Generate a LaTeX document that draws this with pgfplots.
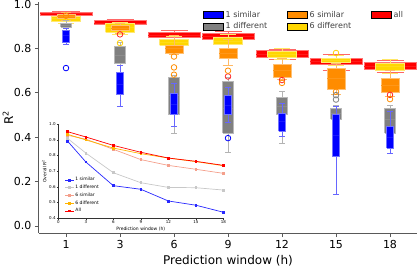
\documentclass[border=0pt]{standalone}
\usepackage{fontspec}
\setmainfont{DejaVu Sans}
\usepackage{pgfplots}
\pgfplotsset{compat=1.18}
\definecolor{cB}{RGB}{0,0,255}
\definecolor{cG}{RGB}{128,128,128}
\definecolor{cO}{RGB}{255,140,0}
\definecolor{cY}{RGB}{255,215,0}
\definecolor{cR}{RGB}{255,0,0}
\definecolor{iB}{RGB}{40,40,255}
\definecolor{iG}{RGB}{200,200,200}
\definecolor{iS}{RGB}{244,160,140}
\definecolor{iY}{RGB}{255,180,0}
\definecolor{iR}{RGB}{255,0,0}
% color, pos, lower whisker, lower quartile, median, upper quartile, upper whisker, box width, cap width
\newcommand{\bx}[9]{%
 \pgfmathsetmacro{\xa}{#2-#8/2}\pgfmathsetmacro{\xb}{#2+#8/2}%
 \pgfmathsetmacro{\ca}{#2-#9/2}\pgfmathsetmacro{\cb}{#2+#9/2}%
 \edef\tmp{%
 \noexpand\addplot[draw=#1!60!white, line width=0.8pt, forget plot] coordinates {(#2,#3) (#2,#4)};
 \noexpand\addplot[draw=#1!60!white, line width=0.8pt, forget plot] coordinates {(#2,#6) (#2,#7)};
 \noexpand\addplot[draw=#1!60!white, line width=0.8pt, forget plot] coordinates {(\ca,#3) (\cb,#3)};
 \noexpand\addplot[draw=#1!60!white, line width=0.8pt, forget plot] coordinates {(\ca,#7) (\cb,#7)};
 \noexpand\addplot[fill=#1, draw=#1!55!white, line width=0.8pt, forget plot] coordinates {(\xa,#4) (\xb,#4) (\xb,#6) (\xa,#6) (\xa,#4)};
 \noexpand\addplot[draw=#1!90!white, line width=0.5pt, forget plot] coordinates {(\xa,#5) (\xb,#5)};
 }\tmp}
\begin{document}
\begin{tikzpicture}
\useasboundingbox (0,0) rectangle (417pt,268pt);
\begin{axis}[at={(39pt,35pt)}, anchor=south west, scale only axis,
 width=378pt, height=231pt,
 xmin=-0.5, xmax=6.5, ymin=-0.032, ymax=1.01,
 axis lines=left, axis line style={black!65, line width=1pt, -},
 xtick={0,...,6}, xticklabels={1,3,6,9,12,15,18},
 ytick={0,0.2,0.4,0.6,0.8,1.0},
 y tick label style={/pgf/number format/.cd, fixed, fixed zerofill, precision=1, /tikz/.cd},
 /pgf/number format/assume math mode=true,
 tick align=outside, major tick length=4pt, tick style={black!65, line width=0.8pt},
 ticklabel style={font=\fontsize{11}{13}\selectfont},
 every axis x label/.style={at={(axis description cs:0.5,0)}, anchor=north, yshift=-22pt, inner sep=0pt, font=\fontsize{12}{14}\selectfont},
 every axis y label/.style={at={(axis description cs:-0.068,0.5)}, anchor=south, rotate=90, inner sep=0pt, font=\fontsize{12}{14}\selectfont},
 xlabel={Prediction window (h)}, ylabel={R\textsuperscript{2}},
 legend columns=3,
 legend image code/.code={\fill[#1] (0pt,-3.5pt) rectangle (20pt,3.5pt);},
 legend style={at={(0.426,0.978)}, anchor=north west, draw=none, fill=none,
   font=\fontsize{8}{9.6}\selectfont, text=black!75, cells={anchor=west},
   /tikz/every even column/.append style={column sep=18pt}},
]
\addlegendimage{fill=cB}\addlegendentry{1 similar}
\addlegendimage{fill=cO}\addlegendentry{6 similar}
\addlegendimage{fill=cR}\addlegendentry{all}
\addlegendimage{fill=cG}\addlegendentry{1 different}
\addlegendimage{fill=cY}\addlegendentry{6 different}
% all (red)
\bx{cR}{0}{0.945}{0.951}{0.957}{0.963}{0.968}{0.96}{0.5}
\bx{cR}{1}{0.900}{0.907}{0.916}{0.925}{0.930}{0.96}{0.5}
\bx{cR}{2}{0.842}{0.850}{0.862}{0.874}{0.880}{0.96}{0.5}
\bx{cR}{3}{0.836}{0.843}{0.857}{0.870}{0.876}{0.96}{0.5}
\bx{cR}{4}{0.752}{0.761}{0.776}{0.791}{0.797}{0.96}{0.5}
\bx{cR}{5}{0.701}{0.727}{0.742}{0.757}{0.772}{0.96}{0.5}
\bx{cR}{6}{0.692}{0.707}{0.722}{0.737}{0.745}{0.96}{0.5}
% 6 different (yellow)
\bx{cY}{0}{0.915}{0.922}{0.935}{0.945}{0.955}{0.53}{0.3}
\bx{cY}{1}{0.865}{0.873}{0.895}{0.912}{0.920}{0.53}{0.3}
\bx{cY}{2}{0.800}{0.814}{0.828}{0.840}{0.855}{0.53}{0.3}
\bx{cY}{3}{0.800}{0.817}{0.835}{0.852}{0.862}{0.53}{0.3}
\bx{cY}{4}{0.750}{0.761}{0.775}{0.787}{0.800}{0.53}{0.3}
\bx{cY}{5}{0.725}{0.737}{0.747}{0.757}{0.768}{0.53}{0.3}
\bx{cY}{6}{0.690}{0.700}{0.718}{0.734}{0.749}{0.53}{0.3}
% 6 similar (orange)
\bx{cO}{0}{0.925}{0.935}{0.945}{0.955}{0.962}{0.33}{0.2}
\bx{cO}{1}{0.870}{0.880}{0.893}{0.905}{0.915}{0.33}{0.2}
\bx{cO}{2}{0.772}{0.780}{0.800}{0.814}{0.860}{0.33}{0.2}
\bx{cO}{3}{0.722}{0.757}{0.780}{0.802}{0.840}{0.33}{0.2}
\bx{cO}{4}{0.659}{0.671}{0.700}{0.727}{0.757}{0.33}{0.2}
\bx{cO}{5}{0.591}{0.614}{0.665}{0.712}{0.735}{0.33}{0.2}
\bx{cO}{6}{0.584}{0.602}{0.635}{0.667}{0.700}{0.33}{0.2}
% 1 different (gray)
\bx{cG}{0}{0.890}{0.897}{0.906}{0.915}{0.925}{0.19}{0.1}
\bx{cG}{1}{0.724}{0.731}{0.770}{0.810}{0.826}{0.19}{0.1}
\bx{cG}{2}{0.418}{0.501}{0.590}{0.671}{0.680}{0.19}{0.1}
\bx{cG}{3}{0.331}{0.418}{0.530}{0.651}{0.670}{0.19}{0.1}
\bx{cG}{4}{0.370}{0.501}{0.540}{0.581}{0.606}{0.19}{0.1}
\bx{cG}{5}{0.400}{0.482}{0.510}{0.531}{0.545}{0.19}{0.1}
\bx{cG}{6}{0.360}{0.418}{0.480}{0.531}{0.542}{0.19}{0.1}
% 1 similar (blue)
\bx{cB}{0}{0.820}{0.827}{0.860}{0.882}{0.893}{0.12}{0.1}
\bx{cB}{1}{0.539}{0.592}{0.640}{0.692}{0.722}{0.12}{0.1}
\bx{cB}{2}{0.448}{0.501}{0.550}{0.596}{0.645}{0.12}{0.1}
\bx{cB}{3}{0.466}{0.501}{0.545}{0.587}{0.626}{0.12}{0.1}
\bx{cB}{4}{0.403}{0.426}{0.470}{0.506}{0.551}{0.12}{0.1}
\bx{cB}{5}{0.143}{0.313}{0.410}{0.501}{0.539}{0.12}{0.1}
\bx{cB}{6}{0.325}{0.351}{0.400}{0.448}{0.516}{0.12}{0.1}
% outliers
\addplot[only marks, mark=o, mark size=2.8pt, draw=cR!85!white, line width=0.8pt, forget plot]
  coordinates {(1,0.864) (3,0.674) (4,0.658) (6,0.591)};
\addplot[only marks, mark=o, mark size=2.8pt, draw=cO, line width=0.8pt, forget plot]
  coordinates {(0,0.948) (2,0.764) (2,0.715) (2,0.682) (3,0.700) (4,0.645) (5,0.605) (6,0.572)};
\addplot[only marks, mark=o, mark size=2.8pt, draw=cY!90!orange, line width=0.8pt, forget plot]
  coordinates {(1,0.825) (5,0.780)};
\addplot[only marks, mark=o, mark size=2.8pt, draw=cG, line width=0.8pt, forget plot]
  coordinates {(5,0.590) (5,0.570)};
\addplot[only marks, mark=o, mark size=2.8pt, draw=cB, line width=0.8pt, forget plot]
  coordinates {(0,0.712) (3,0.396)};
\end{axis}
% inset
\begin{axis}[at={(58.3pt,50pt)}, anchor=south west, scale only axis,
 width=165pt, height=93.7pt,
 xmin=0, xmax=18, ymin=0.4, ymax=1.0,
 axis lines=left, axis line style={black!80, line width=0.5pt, -},
 xtick={0,3,6,9,12,15,18}, ytick={0.4,0.5,0.6,0.7,0.8,0.9,1.0},
 y tick label style={/pgf/number format/.cd, fixed, fixed zerofill, precision=1, /tikz/.cd},
 /pgf/number format/assume math mode=true,
 tick align=outside, major tick length=1.5pt, tick style={black!80, line width=0.4pt},
 ticklabel style={font=\fontsize{4}{5}\selectfont, inner sep=1pt},
 every axis x label/.style={at={(axis description cs:0.5,0)}, anchor=north, yshift=-9pt, inner sep=0pt, font=\fontsize{4.5}{5}\selectfont},
 every axis y label/.style={at={(axis description cs:-0.07,0.5)}, anchor=south, rotate=90, inner sep=0pt, font=\fontsize{4.5}{5}\selectfont},
 xlabel={Prediction window (h)}, ylabel={Overall R\textsuperscript{2}},
 legend image code/.code={\draw[mark repeat=2,mark phase=2,#1] plot coordinates {(0cm,0cm) (0.15cm,0cm) (0.3cm,0cm)};},
 legend style={at={(0.02,0.47)}, anchor=north west, draw=none, fill=none,
   font=\fontsize{4.5}{5}\selectfont, cells={anchor=west}, nodes={inner sep=1.4pt}},
 every axis plot/.append style={line width=0.7pt, mark=square*, mark size=0.9pt},
]
\addplot[color=iB] coordinates {(1,0.893) (3,0.759) (6,0.607) (9,0.584) (12,0.509) (15,0.482) (18,0.437)};
\addlegendentry{1 similar}
\addplot[color=iG] coordinates {(1,0.910) (3,0.816) (6,0.690) (9,0.626) (12,0.596) (15,0.594) (18,0.579)};
\addlegendentry{1 different}
\addplot[color=iS] coordinates {(1,0.930) (3,0.905) (6,0.840) (9,0.774) (12,0.737) (15,0.712) (18,0.686)};
\addlegendentry{6 similar}
\addplot[color=iY] coordinates {(1,0.936) (3,0.900) (6,0.848) (9,0.812) (12,0.784) (15,0.761) (18,0.735)};
\addlegendentry{6 different}
\addplot[color=iR] coordinates {(1,0.953) (3,0.919) (6,0.865) (9,0.821) (12,0.784) (15,0.763) (18,0.737)};
\addlegendentry{All}
\end{axis}
\end{tikzpicture}
\end{document}
